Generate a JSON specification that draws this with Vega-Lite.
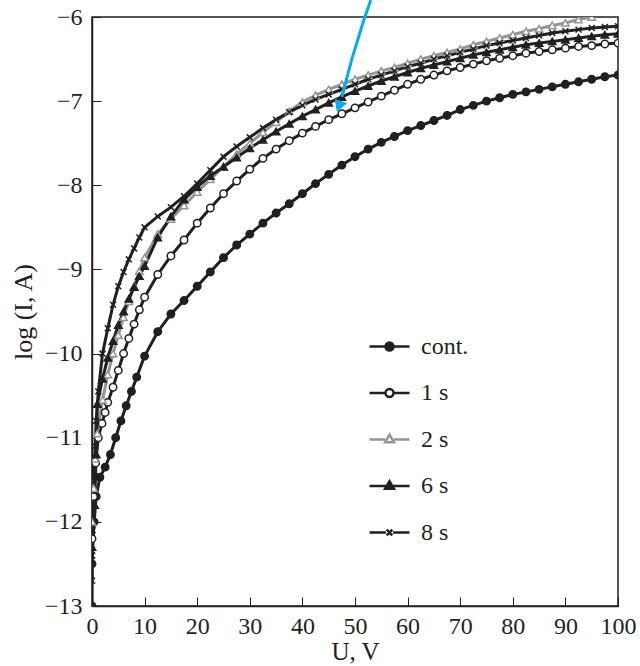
{
  "$schema": "https://vega.github.io/schema/vega-lite/v6.json",
  "width": 526,
  "height": 589,
  "autosize": "none",
  "padding": {"left": 92, "top": 17, "right": 22, "bottom": 60},
  "background": "white",
  "config": {
    "view": {"stroke": "#231f20", "strokeWidth": 1.5},
    "font": "Liberation Serif",
    "axis": {
      "grid": false,
      "domainColor": "#231f20",
      "domainWidth": 1.5,
      "tickColor": "#231f20",
      "tickWidth": 1,
      "tickSize": -9,
      "labelFlush": false,
      "labelFont": "Liberation Serif",
      "labelFontSize": 24,
      "labelColor": "#231f20",
      "titleFont": "Liberation Serif",
      "titleFontSize": 25,
      "titleFontWeight": "normal",
      "titleColor": "#231f20"
    },
    "legend": {"labelFont": "Liberation Serif", "labelFontSize": 24, "labelColor": "#231f20"}
  },
  "datasets": {
    "curves": [
      {"s":"cont.","i":0,"U":0,"logI":-13.0},{"s":"cont.","i":1,"U":0,"logI":-12.5},{"s":"cont.","i":2,"U":0.4,"logI":-12.0},{"s":"cont.","i":3,"U":0.8,"logI":-11.7},{"s":"cont.","i":4,"U":1.5,"logI":-11.47},{"s":"cont.","i":5,"U":2.5,"logI":-11.35},{"s":"cont.","i":6,"U":3.5,"logI":-11.2},{"s":"cont.","i":7,"U":4.5,"logI":-11.0},{"s":"cont.","i":8,"U":5.5,"logI":-10.8},{"s":"cont.","i":9,"U":6.5,"logI":-10.62},{"s":"cont.","i":10,"U":7.5,"logI":-10.45},{"s":"cont.","i":11,"U":8.5,"logI":-10.28},{"s":"cont.","i":12,"U":10,"logI":-10.03},{"s":"cont.","i":13,"U":12.5,"logI":-9.74},{"s":"cont.","i":14,"U":15,"logI":-9.53},{"s":"cont.","i":15,"U":17.5,"logI":-9.37},{"s":"cont.","i":16,"U":20,"logI":-9.2},{"s":"cont.","i":17,"U":22.5,"logI":-9.03},{"s":"cont.","i":18,"U":25,"logI":-8.86},{"s":"cont.","i":19,"U":27.5,"logI":-8.71},{"s":"cont.","i":20,"U":30,"logI":-8.58},{"s":"cont.","i":21,"U":32.5,"logI":-8.45},{"s":"cont.","i":22,"U":35,"logI":-8.33},{"s":"cont.","i":23,"U":37.5,"logI":-8.22},{"s":"cont.","i":24,"U":40,"logI":-8.1},{"s":"cont.","i":25,"U":42.5,"logI":-7.98},{"s":"cont.","i":26,"U":45,"logI":-7.87},{"s":"cont.","i":27,"U":47.5,"logI":-7.76},{"s":"cont.","i":28,"U":50,"logI":-7.66},{"s":"cont.","i":29,"U":52.5,"logI":-7.57},{"s":"cont.","i":30,"U":55,"logI":-7.49},{"s":"cont.","i":31,"U":57.5,"logI":-7.42},{"s":"cont.","i":32,"U":60,"logI":-7.35},{"s":"cont.","i":33,"U":62.5,"logI":-7.29},{"s":"cont.","i":34,"U":65,"logI":-7.23},{"s":"cont.","i":35,"U":67.5,"logI":-7.17},{"s":"cont.","i":36,"U":70,"logI":-7.1},{"s":"cont.","i":37,"U":72.5,"logI":-7.05},{"s":"cont.","i":38,"U":75,"logI":-7.0},{"s":"cont.","i":39,"U":77.5,"logI":-6.96},{"s":"cont.","i":40,"U":80,"logI":-6.92},{"s":"cont.","i":41,"U":82.5,"logI":-6.89},{"s":"cont.","i":42,"U":85,"logI":-6.86},{"s":"cont.","i":43,"U":87.5,"logI":-6.83},{"s":"cont.","i":44,"U":90,"logI":-6.8},{"s":"cont.","i":45,"U":92.5,"logI":-6.77},{"s":"cont.","i":46,"U":95,"logI":-6.74},{"s":"cont.","i":47,"U":97.5,"logI":-6.71},{"s":"cont.","i":48,"U":100,"logI":-6.69},

      {"s":"1 s","i":0,"U":0,"logI":-12.2},{"s":"1 s","i":1,"U":0.3,"logI":-11.7},{"s":"1 s","i":2,"U":0.7,"logI":-11.3},{"s":"1 s","i":3,"U":1.2,"logI":-11.0},{"s":"1 s","i":4,"U":1.9,"logI":-10.83},{"s":"1 s","i":5,"U":2.5,"logI":-10.7},{"s":"1 s","i":6,"U":3,"logI":-10.58},{"s":"1 s","i":7,"U":4,"logI":-10.4},{"s":"1 s","i":8,"U":5,"logI":-10.2},{"s":"1 s","i":9,"U":6,"logI":-10.0},{"s":"1 s","i":10,"U":7,"logI":-9.82},{"s":"1 s","i":11,"U":8,"logI":-9.65},{"s":"1 s","i":12,"U":9,"logI":-9.48},{"s":"1 s","i":13,"U":10,"logI":-9.33},{"s":"1 s","i":14,"U":12.5,"logI":-9.06},{"s":"1 s","i":15,"U":15,"logI":-8.84},{"s":"1 s","i":16,"U":17.5,"logI":-8.65},{"s":"1 s","i":17,"U":20,"logI":-8.45},{"s":"1 s","i":18,"U":22.5,"logI":-8.27},{"s":"1 s","i":19,"U":25,"logI":-8.1},{"s":"1 s","i":20,"U":27.5,"logI":-7.95},{"s":"1 s","i":21,"U":30,"logI":-7.81},{"s":"1 s","i":22,"U":32.5,"logI":-7.68},{"s":"1 s","i":23,"U":35,"logI":-7.57},{"s":"1 s","i":24,"U":37.5,"logI":-7.47},{"s":"1 s","i":25,"U":40,"logI":-7.38},{"s":"1 s","i":26,"U":42.5,"logI":-7.3},{"s":"1 s","i":27,"U":45,"logI":-7.22},{"s":"1 s","i":28,"U":47.5,"logI":-7.15},{"s":"1 s","i":29,"U":50,"logI":-7.08},{"s":"1 s","i":30,"U":52.5,"logI":-7.01},{"s":"1 s","i":31,"U":55,"logI":-6.94},{"s":"1 s","i":32,"U":57.5,"logI":-6.87},{"s":"1 s","i":33,"U":60,"logI":-6.8},{"s":"1 s","i":34,"U":62.5,"logI":-6.74},{"s":"1 s","i":35,"U":65,"logI":-6.69},{"s":"1 s","i":36,"U":67.5,"logI":-6.64},{"s":"1 s","i":37,"U":70,"logI":-6.6},{"s":"1 s","i":38,"U":72.5,"logI":-6.56},{"s":"1 s","i":39,"U":75,"logI":-6.52},{"s":"1 s","i":40,"U":77.5,"logI":-6.49},{"s":"1 s","i":41,"U":80,"logI":-6.46},{"s":"1 s","i":42,"U":82.5,"logI":-6.43},{"s":"1 s","i":43,"U":85,"logI":-6.41},{"s":"1 s","i":44,"U":87.5,"logI":-6.39},{"s":"1 s","i":45,"U":90,"logI":-6.37},{"s":"1 s","i":46,"U":92.5,"logI":-6.35},{"s":"1 s","i":47,"U":95,"logI":-6.34},{"s":"1 s","i":48,"U":97.5,"logI":-6.32},{"s":"1 s","i":49,"U":100,"logI":-6.31},

      {"s":"2 s","i":0,"U":0,"logI":-12.0},{"s":"2 s","i":1,"U":0.3,"logI":-11.6},{"s":"2 s","i":2,"U":0.6,"logI":-11.25},{"s":"2 s","i":3,"U":1,"logI":-10.95},{"s":"2 s","i":4,"U":2,"logI":-10.55},{"s":"2 s","i":5,"U":3,"logI":-10.25},{"s":"2 s","i":6,"U":4,"logI":-10.0},{"s":"2 s","i":7,"U":5,"logI":-9.78},{"s":"2 s","i":8,"U":6,"logI":-9.57},{"s":"2 s","i":9,"U":7,"logI":-9.38},{"s":"2 s","i":10,"U":8,"logI":-9.2},{"s":"2 s","i":11,"U":9,"logI":-9.02},{"s":"2 s","i":12,"U":10,"logI":-8.86},{"s":"2 s","i":13,"U":12.5,"logI":-8.58},{"s":"2 s","i":14,"U":15,"logI":-8.4},{"s":"2 s","i":15,"U":17.5,"logI":-8.24},{"s":"2 s","i":16,"U":20,"logI":-8.08},{"s":"2 s","i":17,"U":22.5,"logI":-7.93},{"s":"2 s","i":18,"U":25,"logI":-7.78},{"s":"2 s","i":19,"U":27.5,"logI":-7.63},{"s":"2 s","i":20,"U":30,"logI":-7.5},{"s":"2 s","i":21,"U":32.5,"logI":-7.37},{"s":"2 s","i":22,"U":35,"logI":-7.25},{"s":"2 s","i":23,"U":37.5,"logI":-7.12},{"s":"2 s","i":24,"U":40,"logI":-7.01},{"s":"2 s","i":25,"U":42.5,"logI":-6.93},{"s":"2 s","i":26,"U":45,"logI":-6.86},{"s":"2 s","i":27,"U":47.5,"logI":-6.8},{"s":"2 s","i":28,"U":50,"logI":-6.74},{"s":"2 s","i":29,"U":52.5,"logI":-6.69},{"s":"2 s","i":30,"U":55,"logI":-6.64},{"s":"2 s","i":31,"U":57.5,"logI":-6.6},{"s":"2 s","i":32,"U":60,"logI":-6.55},{"s":"2 s","i":33,"U":62.5,"logI":-6.5},{"s":"2 s","i":34,"U":65,"logI":-6.46},{"s":"2 s","i":35,"U":67.5,"logI":-6.42},{"s":"2 s","i":36,"U":70,"logI":-6.38},{"s":"2 s","i":37,"U":72.5,"logI":-6.33},{"s":"2 s","i":38,"U":75,"logI":-6.29},{"s":"2 s","i":39,"U":77.5,"logI":-6.25},{"s":"2 s","i":40,"U":80,"logI":-6.21},{"s":"2 s","i":41,"U":82.5,"logI":-6.17},{"s":"2 s","i":42,"U":85,"logI":-6.14},{"s":"2 s","i":43,"U":87.5,"logI":-6.1},{"s":"2 s","i":44,"U":90,"logI":-6.07},{"s":"2 s","i":45,"U":92.5,"logI":-6.03},{"s":"2 s","i":46,"U":95,"logI":-6.0},

      {"s":"6 s","i":0,"U":0,"logI":-12.3},{"s":"6 s","i":1,"U":0.5,"logI":-11.8},{"s":"6 s","i":2,"U":0.8,"logI":-11.2},{"s":"6 s","i":3,"U":1,"logI":-10.6},{"s":"6 s","i":4,"U":2,"logI":-10.3},{"s":"6 s","i":5,"U":3,"logI":-10.05},{"s":"6 s","i":6,"U":4,"logI":-9.85},{"s":"6 s","i":7,"U":5,"logI":-9.66},{"s":"6 s","i":8,"U":6,"logI":-9.5},{"s":"6 s","i":9,"U":7,"logI":-9.35},{"s":"6 s","i":10,"U":8,"logI":-9.21},{"s":"6 s","i":11,"U":9,"logI":-9.08},{"s":"6 s","i":12,"U":10,"logI":-8.96},{"s":"6 s","i":13,"U":12.5,"logI":-8.62},{"s":"6 s","i":14,"U":15,"logI":-8.37},{"s":"6 s","i":15,"U":17.5,"logI":-8.17},{"s":"6 s","i":16,"U":20,"logI":-8.02},{"s":"6 s","i":17,"U":22.5,"logI":-7.89},{"s":"6 s","i":18,"U":25,"logI":-7.78},{"s":"6 s","i":19,"U":27.5,"logI":-7.67},{"s":"6 s","i":20,"U":30,"logI":-7.56},{"s":"6 s","i":21,"U":32.5,"logI":-7.46},{"s":"6 s","i":22,"U":35,"logI":-7.36},{"s":"6 s","i":23,"U":37.5,"logI":-7.27},{"s":"6 s","i":24,"U":40,"logI":-7.18},{"s":"6 s","i":25,"U":42.5,"logI":-7.1},{"s":"6 s","i":26,"U":45,"logI":-7.02},{"s":"6 s","i":27,"U":47.5,"logI":-6.95},{"s":"6 s","i":28,"U":50,"logI":-6.88},{"s":"6 s","i":29,"U":52.5,"logI":-6.82},{"s":"6 s","i":30,"U":55,"logI":-6.76},{"s":"6 s","i":31,"U":57.5,"logI":-6.71},{"s":"6 s","i":32,"U":60,"logI":-6.66},{"s":"6 s","i":33,"U":62.5,"logI":-6.61},{"s":"6 s","i":34,"U":65,"logI":-6.57},{"s":"6 s","i":35,"U":67.5,"logI":-6.53},{"s":"6 s","i":36,"U":70,"logI":-6.49},{"s":"6 s","i":37,"U":72.5,"logI":-6.45},{"s":"6 s","i":38,"U":75,"logI":-6.42},{"s":"6 s","i":39,"U":77.5,"logI":-6.39},{"s":"6 s","i":40,"U":80,"logI":-6.36},{"s":"6 s","i":41,"U":82.5,"logI":-6.33},{"s":"6 s","i":42,"U":85,"logI":-6.31},{"s":"6 s","i":43,"U":87.5,"logI":-6.29},{"s":"6 s","i":44,"U":90,"logI":-6.27},{"s":"6 s","i":45,"U":92.5,"logI":-6.25},{"s":"6 s","i":46,"U":95,"logI":-6.23},{"s":"6 s","i":47,"U":97.5,"logI":-6.21},{"s":"6 s","i":48,"U":100,"logI":-6.2},

      {"s":"8 s","i":0,"U":0,"logI":-12.7},{"s":"8 s","i":1,"U":0.05,"logI":-12.4},{"s":"8 s","i":2,"U":0.1,"logI":-12.1},{"s":"8 s","i":3,"U":0.2,"logI":-11.8},{"s":"8 s","i":4,"U":0.4,"logI":-11.45},{"s":"8 s","i":5,"U":0.6,"logI":-11.1},{"s":"8 s","i":6,"U":0.8,"logI":-10.8},{"s":"8 s","i":7,"U":1.2,"logI":-10.45},{"s":"8 s","i":8,"U":2,"logI":-10.0},{"s":"8 s","i":9,"U":3,"logI":-9.7},{"s":"8 s","i":10,"U":4,"logI":-9.42},{"s":"8 s","i":11,"U":5,"logI":-9.2},{"s":"8 s","i":12,"U":6,"logI":-9.03},{"s":"8 s","i":13,"U":7,"logI":-8.88},{"s":"8 s","i":14,"U":8,"logI":-8.75},{"s":"8 s","i":15,"U":9,"logI":-8.62},{"s":"8 s","i":16,"U":10,"logI":-8.5},{"s":"8 s","i":17,"U":12.5,"logI":-8.37},{"s":"8 s","i":18,"U":15,"logI":-8.26},{"s":"8 s","i":19,"U":17.5,"logI":-8.13},{"s":"8 s","i":20,"U":20,"logI":-7.98},{"s":"8 s","i":21,"U":22.5,"logI":-7.82},{"s":"8 s","i":22,"U":25,"logI":-7.66},{"s":"8 s","i":23,"U":27.5,"logI":-7.54},{"s":"8 s","i":24,"U":30,"logI":-7.43},{"s":"8 s","i":25,"U":32.5,"logI":-7.32},{"s":"8 s","i":26,"U":35,"logI":-7.22},{"s":"8 s","i":27,"U":37.5,"logI":-7.13},{"s":"8 s","i":28,"U":40,"logI":-7.05},{"s":"8 s","i":29,"U":42.5,"logI":-6.98},{"s":"8 s","i":30,"U":45,"logI":-6.92},{"s":"8 s","i":31,"U":47.5,"logI":-6.86},{"s":"8 s","i":32,"U":50,"logI":-6.8},{"s":"8 s","i":33,"U":52.5,"logI":-6.74},{"s":"8 s","i":34,"U":55,"logI":-6.69},{"s":"8 s","i":35,"U":57.5,"logI":-6.64},{"s":"8 s","i":36,"U":60,"logI":-6.59},{"s":"8 s","i":37,"U":62.5,"logI":-6.55},{"s":"8 s","i":38,"U":65,"logI":-6.5},{"s":"8 s","i":39,"U":67.5,"logI":-6.46},{"s":"8 s","i":40,"U":70,"logI":-6.42},{"s":"8 s","i":41,"U":72.5,"logI":-6.38},{"s":"8 s","i":42,"U":75,"logI":-6.34},{"s":"8 s","i":43,"U":77.5,"logI":-6.31},{"s":"8 s","i":44,"U":80,"logI":-6.28},{"s":"8 s","i":45,"U":82.5,"logI":-6.25},{"s":"8 s","i":46,"U":85,"logI":-6.22},{"s":"8 s","i":47,"U":87.5,"logI":-6.19},{"s":"8 s","i":48,"U":90,"logI":-6.17},{"s":"8 s","i":49,"U":92.5,"logI":-6.15},{"s":"8 s","i":50,"U":95,"logI":-6.13},{"s":"8 s","i":51,"U":97.5,"logI":-6.12},{"s":"8 s","i":52,"U":100,"logI":-6.11}
    ],
    "arrow": [
      {"i":0,"U":53.0,"logI":-5.8},{"i":1,"U":51.6,"logI":-6.05},{"i":2,"U":49.4,"logI":-6.5},{"i":3,"U":47.5,"logI":-6.95}
    ],
    "arrowhead": [
      {"U":46.95,"logI":-7.06}
    ]
  },
  "layer": [
    {
      "data": {"name": "curves"},
      "mark": {"type": "line", "strokeWidth": 3, "clip": true},
      "encoding": {
        "x": {"field": "U", "type": "quantitative", "scale": {"domain": [0, 100], "nice": false},
          "axis": {"values": [0,10,20,30,40,50,60,70,80,90,100], "format": "d", "title": "U, V", "labelPadding": 17, "titlePadding": 1}},
        "y": {"field": "logI", "type": "quantitative", "scale": {"domain": [-13, -6], "nice": false, "zero": false},
          "axis": {"values": [-13,-12,-11,-10,-9,-8,-7,-6], "format": "d", "title": "log (I, A)", "titleFontSize": 26, "labelPadding": 19, "titlePadding": 8}},
        "detail": {"field": "s", "type": "nominal"},
        "stroke": {"condition": {"test": "datum.s === '2 s'", "value": "#939598"}, "value": "#231f20"},
        "order": {"field": "i", "type": "quantitative"}
      }
    },
    {
      "data": {"name": "curves"},
      "mark": {"type": "point", "size": 55, "strokeWidth": 1.5, "opacity": 1, "clip": true},
      "encoding": {
        "x": {"field": "U", "type": "quantitative"},
        "y": {"field": "logI", "type": "quantitative"},
        "shape": {"condition": [
          {"test": "datum.s === '2 s' || datum.s === '6 s'", "value": "triangle-up"},
          {"test": "datum.s === '8 s'", "value": "M-0.8,-0.8L0.8,0.8M-0.8,0.8L0.8,-0.8"}
        ], "value": "circle"},
        "stroke": {"condition": {"test": "datum.s === '2 s'", "value": "#939598"}, "value": "#231f20"},
        "fill": {"condition": {"test": "datum.s === '1 s' || datum.s === '2 s'", "value": "#ffffff"}, "value": "#231f20"}
      }
    },
    {
      "data": {"name": "curves"},
      "mark": {"type": "point", "opacity": 0, "clip": true},
      "encoding": {
        "x": {"field": "U", "type": "quantitative"},
        "y": {"field": "logI", "type": "quantitative"},
        "shape": {"field": "s", "type": "nominal",
          "scale": {"domain": ["cont.", "1 s", "2 s", "6 s", "8 s"], "range": [
            "M-1,0H1M0.2,0A0.2,0.2 0 1,1 -0.2,0A0.2,0.2 0 1,1 0.2,0Z",
            "M-1,0H-0.2M0.2,0H1M0.2,0A0.2,0.2 0 1,1 -0.2,0A0.2,0.2 0 1,1 0.2,0Z",
            "M-1,0H-0.22M0.22,0H1M0,-0.24L0.22,0.14L-0.22,0.14Z",
            "M-1,0H1M0,-0.24L0.22,0.14L-0.22,0.14Z",
            "M-1,0H-0.18M0.18,0H1M-0.14,-0.14L0.14,0.14M-0.14,0.14L0.14,-0.14"
          ]},
          "legend": {
            "title": null, "orient": "none", "legendX": 276, "legendY": 308,
            "symbolSize": 1600, "symbolStrokeWidth": 2.5, "symbolOpacity": 1, "rowPadding": 12.5,
            "labelFont": "Liberation Serif", "labelFontSize": 24, "labelColor": "#231f20", "labelOffset": 10,
            "encoding": {
              "symbols": {
                "stroke": {"condition": {"test": "datum.value === '2 s'", "value": "#939598"}, "value": "#231f20"},
                "fill": {"condition": [
                  {"test": "datum.value === '1 s' || datum.value === '2 s'", "value": "#ffffff"},
                  {"test": "datum.value === '8 s'", "value": "transparent"}
                ], "value": "#231f20"},
                "strokeWidth": {"value": 2.5},
                "opacity": {"value": 1}
              }
            }
          }}
      }
    },
    {
      "data": {"name": "arrow"},
      "mark": {"type": "line", "stroke": "#00aeef", "strokeWidth": 3, "clip": false},
      "encoding": {
        "x": {"field": "U", "type": "quantitative"},
        "y": {"field": "logI", "type": "quantitative"},
        "order": {"field": "i", "type": "quantitative"}
      }
    },
    {
      "data": {"name": "arrowhead"},
      "mark": {"type": "point", "shape": "triangle-down", "angle": 20, "size": 130, "filled": true, "fill": "#00aeef", "stroke": "#00aeef", "strokeWidth": 1, "opacity": 1, "clip": false},
      "encoding": {
        "x": {"field": "U", "type": "quantitative"},
        "y": {"field": "logI", "type": "quantitative"}
      }
    }
  ]
}
